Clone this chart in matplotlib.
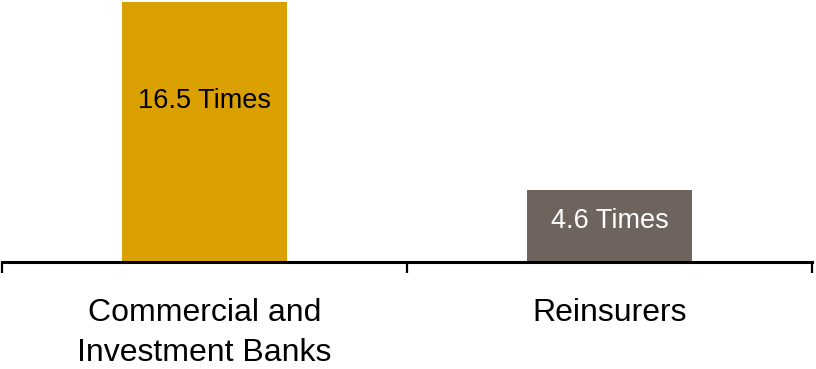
import matplotlib.pyplot as plt

categories = ["Commercial and\nInvestment Banks", "Reinsurers"]
values = [16.5, 4.6]
value_labels = ["16.5 Times", "4.6 Times"]
bar_colors = ["#D9A000", "#6F635E"]
text_colors = ["black", "white"]

plt.rcParams['font.family'] = ['Liberation Sans', 'DejaVu Sans']

fig = plt.figure(figsize=(8.16, 3.69), dpi=100)
ax = fig.add_axes([2 / 816, 107 / 369, 810 / 816, 262 / 369])

x = range(len(categories))
bars = ax.bar(x, values, width=0.405, color=bar_colors)

for bar, lab, tc in zip(bars, value_labels, text_colors):
    h = bar.get_height()
    ax.text(bar.get_x() + bar.get_width() / 2, h * 0.62 if h > 10 else h * 0.56,
            lab, ha="center", va="center", fontsize=19.5, color=tc)

ax.set_xlim(-0.5, 1.5)
ax.set_ylim(0, 16.63)

for s in ["top", "right", "left"]:
    ax.spines[s].set_visible(False)
ax.spines["bottom"].set_linewidth(2.2)
ax.set_yticks([])

ax.set_xticks(list(x))
ax.set_xticklabels(categories, fontsize=23, linespacing=1.45)
ax.tick_params(axis="x", which="major", length=0, pad=26)
ax.set_xticks([-0.5, 0.5, 1.5], minor=True)
ax.tick_params(axis="x", which="minor", length=8, width=1.6, direction="out")

fig.savefig("out.png", dpi=100)
